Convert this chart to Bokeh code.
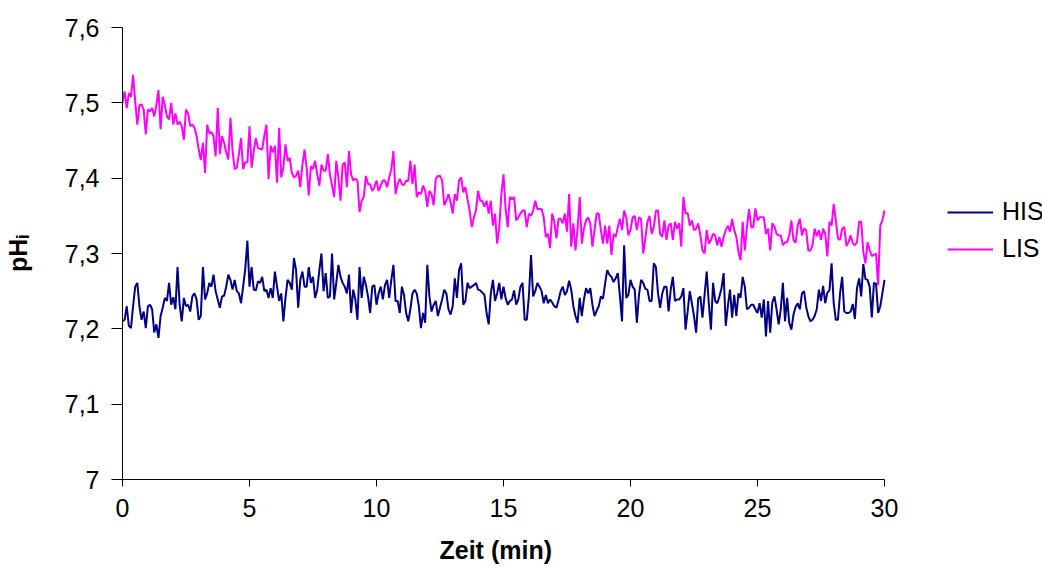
import numpy as np
from bokeh.plotting import figure
from bokeh.models import (Range1d, FixedTicker, CustomJSTickFormatter, Legend,
                          LegendItem, Title)
from bokeh.embed import file_html
from bokeh.resources import INLINE

# Intracellular pH recorded every 5 s over 30 min
SAMPLE_MIN = 5 / 60

his = [
    7.210, 7.212, 7.230, 7.204, 7.201, 7.230, 7.256, 7.261, 7.230, 7.212, 7.223, 7.201, 7.230, 7.232, 7.226,
    7.195, 7.206, 7.188, 7.217, 7.228, 7.241, 7.237, 7.261, 7.232, 7.242, 7.226, 7.282, 7.232, 7.210, 7.241,
    7.230, 7.232, 7.223, 7.243, 7.247, 7.239, 7.212, 7.217, 7.282, 7.239, 7.247, 7.261, 7.256, 7.272, 7.250,
    7.239, 7.228, 7.243, 7.244, 7.256, 7.272, 7.265, 7.252, 7.265, 7.250, 7.247, 7.234, 7.256, 7.280, 7.317,
    7.256, 7.282, 7.252, 7.251, 7.263, 7.261, 7.269, 7.250, 7.252, 7.241, 7.254, 7.241, 7.276, 7.256, 7.237,
    7.247, 7.210, 7.241, 7.265, 7.261, 7.252, 7.294, 7.278, 7.228, 7.265, 7.276, 7.256, 7.256, 7.282, 7.261,
    7.269, 7.241, 7.252, 7.278, 7.300, 7.250, 7.274, 7.241, 7.243, 7.300, 7.239, 7.261, 7.285, 7.269, 7.261,
    7.256, 7.247, 7.272, 7.221, 7.252, 7.239, 7.212, 7.282, 7.241, 7.269, 7.258, 7.243, 7.221, 7.256, 7.258,
    7.232, 7.247, 7.256, 7.239, 7.258, 7.265, 7.241, 7.265, 7.285, 7.237, 7.237, 7.221, 7.256, 7.245, 7.221,
    7.210, 7.226, 7.247, 7.252, 7.247, 7.230, 7.201, 7.221, 7.208, 7.285, 7.243, 7.223, 7.232, 7.237, 7.217,
    7.228, 7.239, 7.252, 7.247, 7.226, 7.219, 7.230, 7.267, 7.241, 7.278, 7.287, 7.232, 7.237, 7.261, 7.254,
    7.256, 7.258, 7.261, 7.252, 7.251, 7.248, 7.245, 7.221, 7.206, 7.247, 7.265, 7.237, 7.247, 7.261, 7.239,
    7.256, 7.241, 7.232, 7.237, 7.239, 7.251, 7.232, 7.239, 7.256, 7.261, 7.212, 7.212, 7.243, 7.298, 7.243,
    7.250, 7.261, 7.256, 7.250, 7.234, 7.245, 7.234, 7.239, 7.235, 7.230, 7.228, 7.238, 7.250, 7.256, 7.245,
    7.250, 7.264, 7.252, 7.230, 7.217, 7.208, 7.241, 7.217, 7.239, 7.254, 7.247, 7.254, 7.232, 7.217, 7.224,
    7.230, 7.243, 7.240, 7.260, 7.278, 7.272, 7.269, 7.262, 7.267, 7.274, 7.243, 7.210, 7.311, 7.241, 7.245,
    7.265, 7.256, 7.252, 7.208, 7.245, 7.265, 7.261, 7.253, 7.252, 7.237, 7.237, 7.287, 7.282, 7.247, 7.228,
    7.247, 7.256, 7.256, 7.223, 7.252, 7.269, 7.237, 7.239, 7.239, 7.243, 7.254, 7.199, 7.223, 7.250, 7.234,
    7.217, 7.195, 7.240, 7.243, 7.215, 7.245, 7.276, 7.234, 7.199, 7.261, 7.237, 7.234, 7.243, 7.254, 7.274,
    7.204, 7.230, 7.252, 7.215, 7.245, 7.217, 7.247, 7.241, 7.269, 7.256, 7.226, 7.228, 7.232, 7.232, 7.226,
    7.221, 7.234, 7.215, 7.239, 7.190, 7.237, 7.195, 7.235, 7.243, 7.226, 7.206, 7.226, 7.261, 7.210, 7.241,
    7.208, 7.199, 7.219, 7.229, 7.234, 7.226, 7.247, 7.250, 7.229, 7.217, 7.210, 7.212, 7.217, 7.226, 7.252,
    7.237, 7.257, 7.234, 7.248, 7.251, 7.287, 7.234, 7.212, 7.212, 7.247, 7.269, 7.223, 7.221, 7.221, 7.223,
    7.233, 7.213, 7.254, 7.267, 7.243, 7.286, 7.266, 7.265, 7.256, 7.215, 7.261, 7.260, 7.221, 7.230, 7.247,
    7.265,
]

lis = [
    7.500, 7.515, 7.493, 7.513, 7.508, 7.537, 7.502, 7.471, 7.497, 7.498, 7.491, 7.458, 7.491, 7.489, 7.493,
    7.482, 7.497, 7.517, 7.465, 7.508, 7.497, 7.482, 7.478, 7.500, 7.471, 7.486, 7.471, 7.475, 7.469, 7.451,
    7.491, 7.486, 7.469, 7.471, 7.467, 7.456, 7.438, 7.424, 7.447, 7.407, 7.471, 7.460, 7.461, 7.456, 7.429,
    7.493, 7.432, 7.456, 7.447, 7.434, 7.425, 7.480, 7.436, 7.412, 7.414, 7.432, 7.453, 7.412, 7.421, 7.421,
    7.469, 7.414, 7.436, 7.453, 7.440, 7.439, 7.438, 7.456, 7.471, 7.399, 7.443, 7.434, 7.443, 7.394, 7.467,
    7.401, 7.414, 7.445, 7.423, 7.427, 7.407, 7.401, 7.403, 7.410, 7.388, 7.418, 7.438, 7.414, 7.377, 7.416,
    7.412, 7.423, 7.405, 7.390, 7.418, 7.410, 7.410, 7.432, 7.405, 7.390, 7.375, 7.423, 7.401, 7.370, 7.418,
    7.421, 7.388, 7.436, 7.405, 7.397, 7.399, 7.397, 7.355, 7.370, 7.375, 7.403, 7.392, 7.392, 7.383, 7.388,
    7.397, 7.383, 7.390, 7.397, 7.397, 7.388, 7.401, 7.412, 7.436, 7.379, 7.392, 7.399, 7.392, 7.391, 7.397,
    7.396, 7.423, 7.392, 7.418, 7.375, 7.381, 7.379, 7.390, 7.383, 7.362, 7.383, 7.379, 7.364, 7.399, 7.403,
    7.403, 7.397, 7.364, 7.370, 7.379, 7.368, 7.353, 7.379, 7.370, 7.397, 7.401, 7.381, 7.388, 7.372, 7.357,
    7.335, 7.348, 7.357, 7.383, 7.370, 7.370, 7.362, 7.370, 7.353, 7.370, 7.337, 7.353, 7.313, 7.335, 7.379,
    7.405, 7.359, 7.335, 7.375, 7.372, 7.375, 7.344, 7.348, 7.353, 7.357, 7.357, 7.335, 7.353, 7.350, 7.357,
    7.370, 7.359, 7.359, 7.359, 7.348, 7.322, 7.326, 7.307, 7.353, 7.342, 7.320, 7.346, 7.346, 7.340, 7.353,
    7.329, 7.379, 7.309, 7.340, 7.304, 7.333, 7.375, 7.313, 7.333, 7.344, 7.348, 7.340, 7.309, 7.331, 7.353,
    7.353, 7.331, 7.313, 7.337, 7.313, 7.337, 7.298, 7.326, 7.322, 7.335, 7.346, 7.331, 7.357, 7.348, 7.324,
    7.331, 7.348, 7.350, 7.331, 7.348, 7.346, 7.300, 7.320, 7.342, 7.350, 7.326, 7.335, 7.357, 7.357, 7.326,
    7.322, 7.344, 7.318, 7.337, 7.340, 7.318, 7.342, 7.333, 7.340, 7.309, 7.375, 7.353, 7.354, 7.337, 7.344,
    7.331, 7.333, 7.340, 7.324, 7.304, 7.300, 7.331, 7.313, 7.318, 7.326, 7.324, 7.311, 7.322, 7.309, 7.322,
    7.331, 7.337, 7.329, 7.346, 7.331, 7.322, 7.302, 7.291, 7.342, 7.304, 7.335, 7.359, 7.335, 7.335, 7.360,
    7.344, 7.348, 7.348, 7.348, 7.326, 7.333, 7.304, 7.340, 7.336, 7.326, 7.324, 7.324, 7.311, 7.315, 7.315,
    7.324, 7.344, 7.318, 7.314, 7.337, 7.346, 7.324, 7.333, 7.331, 7.304, 7.304, 7.311, 7.333, 7.323, 7.331,
    7.318, 7.333, 7.326, 7.296, 7.342, 7.337, 7.366, 7.344, 7.320, 7.318, 7.333, 7.335, 7.310, 7.315, 7.324,
    7.314, 7.311, 7.315, 7.342, 7.342, 7.302, 7.287, 7.315, 7.304, 7.297, 7.298, 7.300, 7.258, 7.337, 7.344,
    7.357,
]

x_ticks = [0, 5, 10, 15, 20, 25, 30]
y_ticks = [7.0, 7.1, 7.2, 7.3, 7.4, 7.5, 7.6]

FONT = "Liberation Sans"
HIS_COLOR = "#000080"
LIS_COLOR = "#FF00FF"

# Drawing area: the time axis spans 762 px; the frame runs on to the right
# edge so that the legend can sit beside the data.
AXIS_PX = 762
FRAME_PX = 1042 - 119
x_end = 30 * FRAME_PX / AXIS_PX

p = figure(frame_width=FRAME_PX, frame_height=452, output_backend="svg",
           toolbar_location=None,
           x_range=Range1d(0, x_end), y_range=Range1d(7.0, 7.6),
           min_border_left=119, min_border_right=0,
           min_border_top=27, min_border_bottom=90)
p.outline_line_color = None
p.xgrid.visible = False
p.ygrid.visible = False
p.background_fill_color = "white"
p.border_fill_color = "white"

t_his = np.arange(len(his)) * SAMPLE_MIN
t_lis = np.arange(len(lis)) * SAMPLE_MIN

r_his = p.line(t_his, his, line_color=HIS_COLOR, line_width=2)
r_lis = p.line(t_lis, lis, line_color=LIS_COLOR, line_width=2)

# x axis (line and ticks limited to 0..30 min)
xa = p.xaxis[0]
xa.bounds = (0, 30)
xa.ticker = FixedTicker(ticks=x_ticks)
xa.minor_tick_line_color = None
xa.major_tick_in = 0
xa.major_tick_out = 7
xa.axis_line_color = "black"
xa.major_tick_line_color = "black"
xa.major_label_text_font = FONT
xa.major_label_text_font_size = "25px"
xa.major_label_text_color = "black"
xa.major_label_standoff = 12

# x axis title, centred under the 0..30 span
x_title = Title(text="Zeit (min)", align="left", offset=317, standoff=29,
                text_font=FONT, text_font_style="bold", text_font_size="25px",
                text_color="black")
p.add_layout(x_title, "below")

# y axis
ya = p.yaxis[0]
ya.ticker = FixedTicker(ticks=y_ticks)
ya.formatter = CustomJSTickFormatter(
    code="return (Math.round(tick * 10) / 10).toString().replace('.', ',');")
ya.minor_tick_line_color = None
ya.major_tick_in = 0
ya.major_tick_out = 11
ya.axis_line_color = "black"
ya.major_tick_line_color = "black"
ya.major_label_text_font = FONT
ya.major_label_text_font_size = "25px"
ya.major_label_text_color = "black"
ya.major_label_standoff = 12
ya.axis_label = "pH\u1d62"
ya.axis_label_text_font = FONT
ya.axis_label_text_font_style = "bold"
ya.axis_label_text_font_size = "25px"
ya.axis_label_text_color = "black"
ya.axis_label_standoff = 30

legend = Legend(items=[LegendItem(label="HIS", renderers=[r_his]),
                       LegendItem(label="LIS", renderers=[r_lis])],
                location=(825, 216), orientation="vertical",
                padding=0, margin=0, spacing=8,
                glyph_width=46, glyph_height=20, label_height=20,
                label_standoff=9, label_text_font=FONT,
                label_text_font_size="25px", label_text_color="black",
                border_line_color=None, background_fill_alpha=0)
p.add_layout(legend, "center")

open("out.html", "w").write(file_html(p, INLINE))
